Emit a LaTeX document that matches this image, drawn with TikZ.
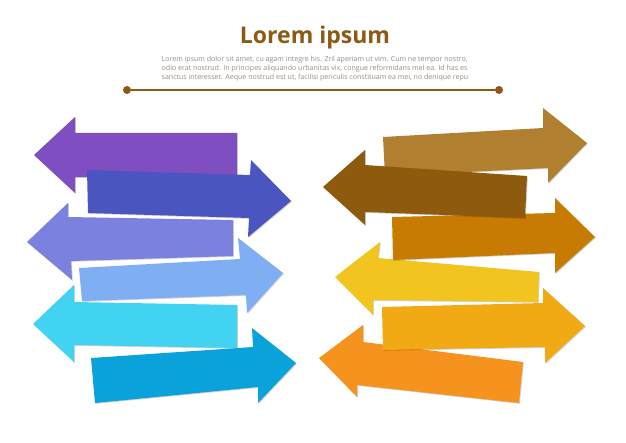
\documentclass[tikz,border=0pt]{standalone}
\usepackage{fontspec}
\setmainfont{Open Sans}
\usetikzlibrary{shadows}

\definecolor{titlebrown}{RGB}{140,90,20}
\definecolor{blurbgray}{RGB}{150,140,132}
\definecolor{arrowpurple}{RGB}{127,78,192}
\definecolor{arrowblue}{RGB}{74,85,192}
\definecolor{arrowperi}{RGB}{122,129,222}
\definecolor{arrowsky}{RGB}{127,174,242}
\definecolor{arrowcyan}{RGB}{66,211,242}
\definecolor{arrowocean}{RGB}{10,162,218}
\definecolor{arrowtan}{RGB}{176,127,48}
\definecolor{arrowbrown}{RGB}{142,90,14}
\definecolor{arrowochre}{RGB}{199,123,2}
\definecolor{arrowyellow}{RGB}{242,196,31}
\definecolor{arrowamber}{RGB}{241,169,20}
\definecolor{arroworange}{RGB}{246,147,31}

\tikzset{
  band/.style={fill=#1, drop shadow={shadow xshift=0.8pt, shadow yshift=-0.8pt, opacity=0.18, fill=black}},
  dot/.style={circle, fill=titlebrown, inner sep=0pt, minimum size=8pt},
}

\begin{document}
\begin{tikzpicture}[x=1pt, y=-1pt, semithick]
            \useasboundingbox (0,0) rectangle (626,443);
            \node[titlebrown, font=\fontsize{23}{26}\selectfont\bfseries] (title) at (315,38) {Lorem ipsum};
            \node[blurbgray, align=left, inner sep=0pt, font=\fontsize{7.05}{9}\selectfont] (blurb) at (315,69)
                {Lorem ipsum dolor sit amet, cu agam integre his. Zril aperiam ut vim. Cum ne tempor nostro,\\
                 odio erat nostrud. In principes aliquando urbanitas vix, congue reformidans mel ea. Id has es\\
                 sanctus interesset. Aeque nostrud est ut, facilisi periculis constituam ea mei, no denique repu};
            \node[dot] (lend) at (127,90) {};
            \node[dot] (rend) at (499,90) {};
            \draw[titlebrown, line width=2.6pt] (lend) -- (rend);

            \fill[band=arrowpurple] (34,155) -- (75,117) -- (75,133) -- (237,133) -- (237,178) -- (75,177) -- (75,193) -- cycle;
            \fill[band=arrowblue]   (87,170) -- (250,175) -- (251,160) -- (291,201) -- (248,237) -- (249,218) -- (88,213) -- cycle;
            \fill[band=arrowperi]   (27,242) -- (68,203) -- (68,217) -- (233,220) -- (233,256) -- (71,261) -- (72,280) -- cycle;
            \fill[band=arrowsky]    (79,268) -- (240,259) -- (238,238) -- (283,273) -- (247,313) -- (246,295) -- (82,301) -- cycle;
            \fill[band=arrowcyan]   (33,324) -- (74,285) -- (74,302) -- (237,305) -- (237,348) -- (74,345) -- (74,362) -- cycle;
            \fill[band=arrowocean]  (91,358) -- (253,347) -- (252,328) -- (296,363) -- (258,403) -- (258,387) -- (95,403) -- cycle;

            \fill[band=arrowyellow] (335,277) -- (380,242) -- (378,258) -- (539,272) -- (538,302) -- (373,300) -- (373,315) -- cycle;
            \fill[band=arrowtan]    (383,137) -- (543,128) -- (543,108) -- (587,143) -- (548,183) -- (548,168) -- (385,176) -- cycle;
            \fill[band=arrowochre]  (392,217) -- (555,213) -- (555,198) -- (595,237) -- (555,273) -- (555,253) -- (393,260) -- cycle;
            \fill[band=arrowbrown]  (323,187) -- (365,150) -- (365,165) -- (527,176) -- (525,218) -- (365,212) -- (365,225) -- cycle;
            \fill[band=arroworange] (319,358) -- (363,325) -- (363,342) -- (523,362) -- (519,403) -- (357,385) -- (357,397) -- cycle;
            \fill[band=arrowamber]  (382,307) -- (543,303) -- (543,288) -- (585,326) -- (545,363) -- (545,347) -- (383,350) -- cycle;
        \end{tikzpicture}
\end{document}
